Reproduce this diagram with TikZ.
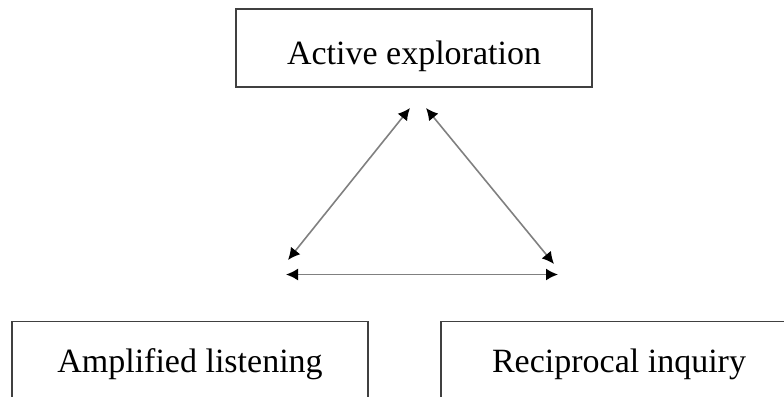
\documentclass[tikz,border=0pt]{standalone}
\usepackage{fontspec}
\setmainfont{Liberation Serif}
\usepackage{tikz}
\usetikzlibrary{arrows.meta,positioning}

\begin{document}
\begin{tikzpicture}[
        x=0.5pt, y=-0.5pt,
        theme/.style={
                draw=black!75,
                line width=0.75pt,
                minimum width=178pt,
                minimum height=39pt,
                inner sep=0pt,
                text depth=0pt,
                font=\fontsize{17}{20}\selectfont
            },
        link/.style={
                draw=black!50,
                line width=0.8pt,
                {Latex[length=6pt,width=6pt,fill=black,color=black]}-{Latex[length=6pt,width=6pt,fill=black,color=black]}
            },
    ]
    \useasboundingbox (0,0) rectangle (784,397);
    \clip (0,0) rectangle (784,397);
    %themes
    \node[theme, text height=16pt] (active) at (414,48) {Active exploration};
    \node[theme, text height=12pt] (listening) at (190,360.5) {Amplified listening};
    \node[theme, text height=12pt] (inquiry) at (619,360.5) {Reciprocal inquiry};
    %triangle corners
    \coordinate (topL) at (410,108);
    \coordinate (topR) at (426,108);
    \coordinate (leftD) at (288,260);
    \coordinate (rightD) at (554,264);
    \coordinate (leftH) at (286,274.5);
    \coordinate (rightH) at (558,274.5);
    %links
    \draw[link] (topL) -- (leftD);
    \draw[link] (topR) -- (rightD);
    \draw[link] (leftH) -- (rightH);
\end{tikzpicture}
\end{document}
